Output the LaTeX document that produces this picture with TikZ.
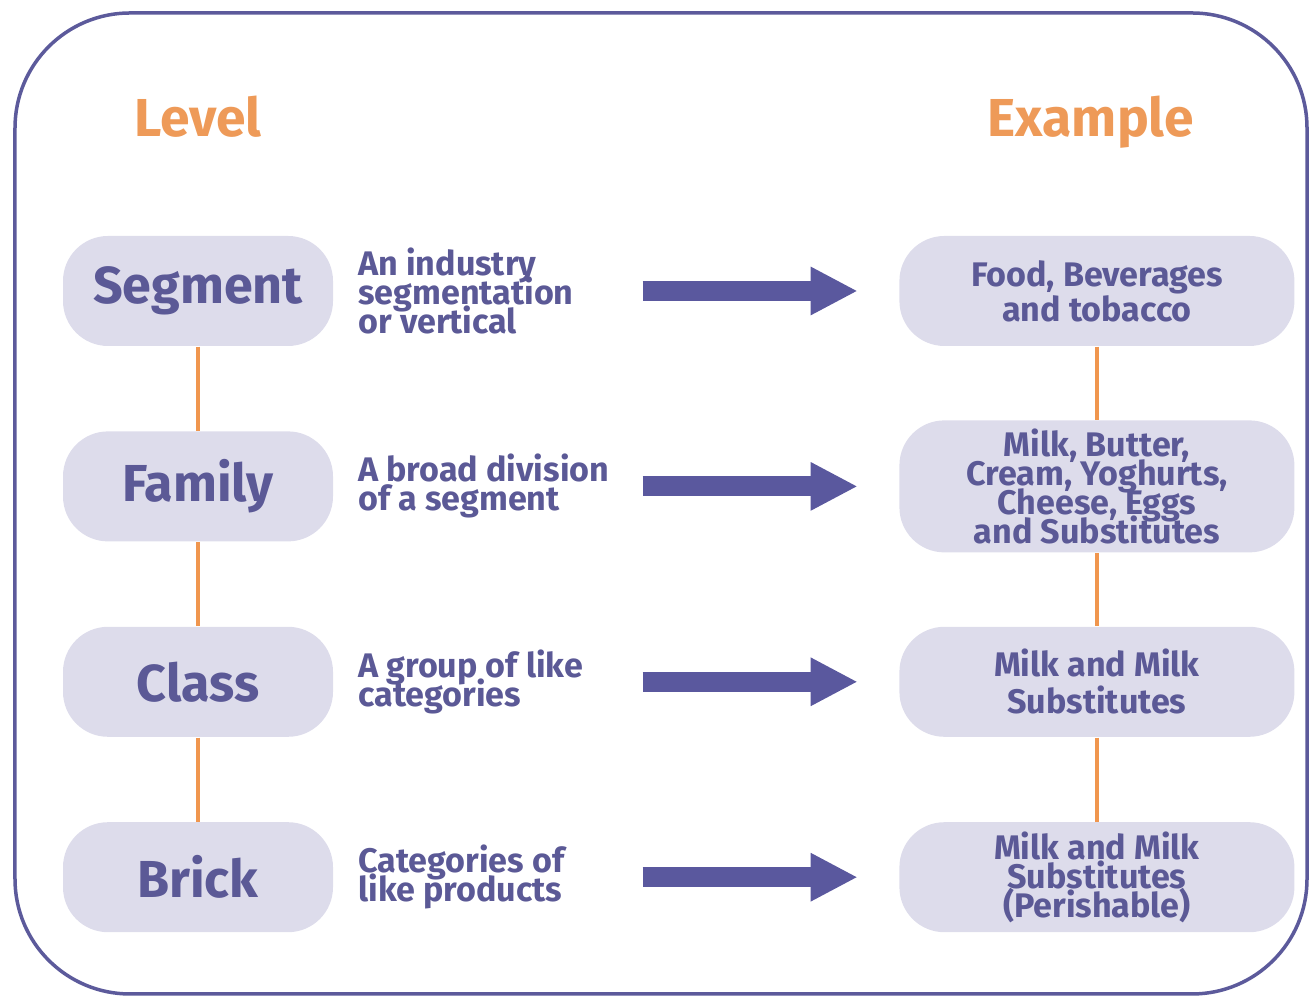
\documentclass[tikz,border=0pt]{standalone}
\usepackage{fontspec}
\setmainfont{Fira Sans}
\usetikzlibrary{positioning, arrows.meta}
\definecolor{framecol}{HTML}{5C5A9B}
\definecolor{pillfill}{HTML}{DDDCEB}
\definecolor{ink}{HTML}{5B5996}
\definecolor{arrowcol}{HTML}{5A589E}
\definecolor{headcol}{HTML}{EE9A58}
\definecolor{linkcol}{HTML}{F0964E}
\newcommand\smalltext{\bfseries\fontsize{9.7}{8.25}\selectfont\lineskiplimit -20pt\relax}

\begin{document}
\begin{tikzpicture}[node distance=0.84cm,
	pill/.style={fill=pillfill, rounded corners=0.45cm, minimum width=2.70cm, minimum height=1.10cm, inner sep=0pt, text=ink, font=\bfseries\fontsize{14.8}{16}\selectfont},
	expill/.style={pill, minimum width=3.95cm, align=center, font=\smalltext},
	desc/.style={inner sep=0pt, align=left, text=ink, font=\smalltext},
	head/.style={inner sep=0pt, text depth=0pt, text=headcol, font=\bfseries\fontsize{15.2}{16}\selectfont},
	link/.style={draw=linkcol, line width=0.04cm},
	bigarrow/.style={draw=arrowcol, line width=0.2cm, -{Triangle[length=0.47cm,width=0.45cm]}, shorten <=3.09cm, shorten >=0.41cm}]

		\useasboundingbox (0,0) rectangle (13.11,9.97);
		\draw[framecol, line width=0.035cm, rounded corners=1.15cm] (0.15,0.03) rectangle (13.07,9.84);

		\node (l1) [pill] at (1.98,7.06) {Segment};
		\node (l2) [pill, below=of l1] {Family};
		\node (l3) [pill, below=of l2] {Class};
		\node (l4) [pill, below=of l3] {Brick};

		\node (r1) [expill, right=5.65cm of l1] {Food, Beverages\\[1.7pt] and tobacco};
		\node (r2) [expill, right=5.65cm of l2, minimum height=1.32cm] {Milk, Butter,\\Cream, Yoghurts,\\Cheese, Eggs\\and Substitutes};
		\node (r3) [expill, right=5.65cm of l3] {Milk and Milk\\[2.3pt] Substitutes};
		\node (r4) [expill, right=5.65cm of l4] {Milk and Milk\\Substitutes\\(Perishable)};

		\node (d1) [desc, right=0.24cm of l1] {An industry\\segmentation\\or vertical};
		\node (d2) [desc, right=0.24cm of l2] {A broad division\\of a segment};
		\node (d3) [desc, right=0.24cm of l3] {A group of like\\categories};
		\node (d4) [desc, right=0.24cm of l4] {Categories of\\like products};

		\node (hl) [head, above=0.98cm of l1] {Level};
		\node (hr) [head, above=0.98cm of r1, xshift=-0.06cm] {Example};

			\path
				(l1) edge [link] (l2)
				(l2) edge [link] (l3)
				(l3) edge [link] (l4)

				(r1) edge [link] (r2)
				(r2) edge [link] (r3)
				(r3) edge [link] (r4)

				(l1) edge [bigarrow] (r1)
				(l2) edge [bigarrow] (r2)
				(l3) edge [bigarrow] (r3)
				(l4) edge [bigarrow] (r4);

\end{tikzpicture}
\end{document}
